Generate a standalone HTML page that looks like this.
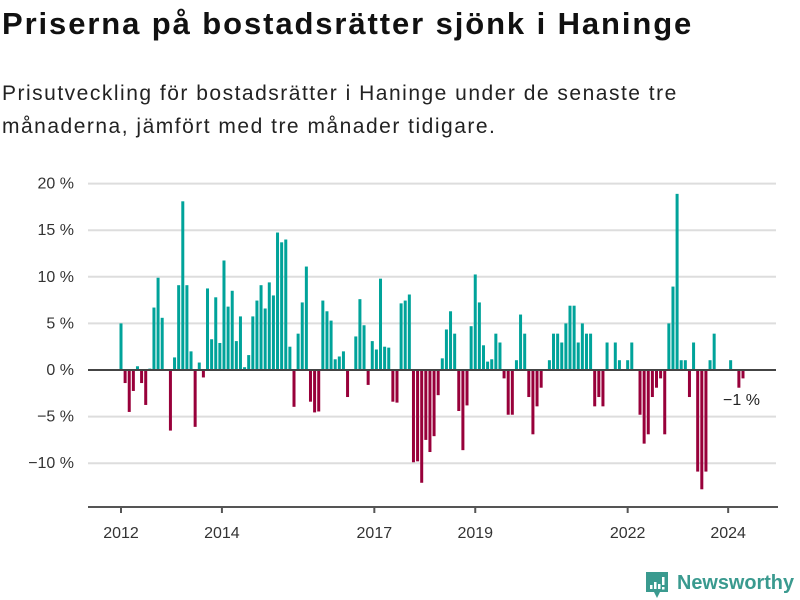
<!DOCTYPE html>
<html><head><meta charset="utf-8">
<style>
body{margin:0;background:#fff;width:800px;height:600px;overflow:hidden;font-family:"Liberation Sans","DejaVu Sans",sans-serif;}
#title{position:absolute;left:2px;top:6px;font-size:31px;font-weight:bold;color:#111;margin:0;letter-spacing:1.9px;white-space:nowrap;}
#sub{position:absolute;left:2px;top:77px;font-size:21px;line-height:33px;color:#222;width:795px;letter-spacing:1.5px;white-space:nowrap;}
svg{position:absolute;left:0;top:0;}
</style></head><body>
<h1 id="title">Priserna på bostadsrätter sjönk i Haninge</h1>
<div id="sub">Prisutveckling för bostadsrätter i Haninge under de senaste tre<br>månaderna, jämfört med tre månader tidigare.</div>
<svg id="chart" width="800" height="600"></svg>
<script>
const values = [5.0,-1.4,-4.5,-2.25,0.4,-1.4,-3.75,0.15,6.7,9.9,5.6,0,-6.5,1.35,9.1,18.1,9.1,2.0,-6.1,0.8,-0.8,8.75,3.3,7.8,2.9,11.75,6.8,8.5,3.1,5.75,0.3,1.6,5.75,7.45,9.1,6.6,9.4,8.0,14.75,13.7,14.0,2.5,-3.95,3.9,7.25,11.1,-3.4,-4.55,-4.45,7.45,6.3,5.3,1.15,1.45,2.0,-2.9,0,3.6,7.6,4.8,-1.6,3.1,2.2,9.8,2.5,2.4,-3.4,-3.5,7.15,7.45,8.1,-9.9,-9.8,-12.1,-7.5,-8.8,-7.1,-2.7,1.25,4.35,6.3,3.9,-4.4,-8.6,-3.8,4.7,10.25,7.25,2.65,0.9,1.15,3.9,2.95,-0.9,-4.8,-4.8,1.05,5.95,3.9,-2.9,-6.9,-3.9,-1.9,0,1.05,3.9,3.9,2.95,5.0,6.9,6.9,2.95,5.0,3.9,3.9,-3.9,-2.9,-3.9,2.95,0,2.95,1.05,0,1.05,2.95,0,-4.8,-7.9,-6.9,-2.9,-1.9,-0.9,-6.9,5.0,8.95,18.9,1.05,1.05,-2.9,2.95,-10.9,-12.8,-10.9,1.05,3.9,0,0,0,1.05,0,-1.9,-0.9];
const yTicks = [20,15,10,5,0,-5,-10];
const yTickLabels = ["20 %","15 %","10 %","5 %","0 %","−5 %","−10 %"];
const xTickLabels = ["2012","2014","2017","2019","2022","2024"];
const xTickIndex = [0,24.5,61.5,86,123,147.4];
const lastLabel = "−1 %";

const svg=document.getElementById('chart');
const NS='http://www.w3.org/2000/svg';
const y0px=370, pxPerPct=9.32;
const yScale=v=>y0px-v*pxPerPct;
const xStart=121, xEnd=743;
const xScale=i=>xStart+i*(xEnd-xStart)/(values.length-1);
const FONT='Liberation Sans, DejaVu Sans, sans-serif';
function el(t,a){const e=document.createElementNS(NS,t);for(const k in a)e.setAttribute(k,a[k]);svg.appendChild(e);return e;}

yTicks.forEach((t,i)=>{
  if(t!==0){const g=el('line',{x1:88,x2:776,y1:yScale(t),y2:yScale(t),stroke:'#dddddd','stroke-width':2});
  
  }
  const tx=el('text',{x:74,y:yScale(t)+5,'text-anchor':'end','font-size':16,fill:'#333','font-family':FONT});
  tx.textContent=yTickLabels[i];
  
  
});
values.forEach((v,i)=>{
  if(v===0)return;
  const x=xScale(i)-1.5;
  const r=el('rect',{x:x,y:Math.min(yScale(v),y0px),width:3,height:Math.abs(v)*pxPerPct,fill:v>0?'#00a39a':'#98003a'});
  
  
});
const z=el('line',{x1:88,x2:776,y1:y0px,y2:y0px,stroke:'#444','stroke-width':2});


const ax=el('line',{x1:88,x2:778,y1:507,y2:507,stroke:'#555','stroke-width':2});


xTickLabels.forEach((l,i)=>{
  const x=xScale(xTickIndex[i]);
  const tk=el('line',{x1:x,x2:x,y1:507,y2:513,stroke:'#555','stroke-width':2});
  
  
  const tx=el('text',{x:x,y:538,'text-anchor':'middle','font-size':16,fill:'#333','font-family':FONT});
  tx.textContent=l;
  
  
});
const ll=el('text',{x:723,y:405,'font-size':16,fill:'#222','font-family':FONT});
ll.textContent=lastLabel;


</script>
<svg width="800" height="600" style="pointer-events:none">
<path d="M646 572 h22 v20 h-8 l-3 6 l-3 -6 h-8 z" fill="#3a9a8f"/>
<rect x="650" y="585" width="2.5" height="4" fill="#fff"/>
<rect x="654" y="582" width="2.5" height="7" fill="#fff"/>
<rect x="658" y="584" width="2.5" height="5" fill="#fff"/>
<rect x="662" y="577" width="2.5" height="8" fill="#fff"/>
<rect x="662" y="587" width="2.5" height="2.5" fill="#fff"/>
<text x="677" y="589" font-size="20" font-weight="bold" fill="#3a9a8f" font-family="Liberation Sans, DejaVu Sans, sans-serif" textLength="117" lengthAdjust="spacingAndGlyphs">Newsworthy</text>
</svg>
</body></html>
